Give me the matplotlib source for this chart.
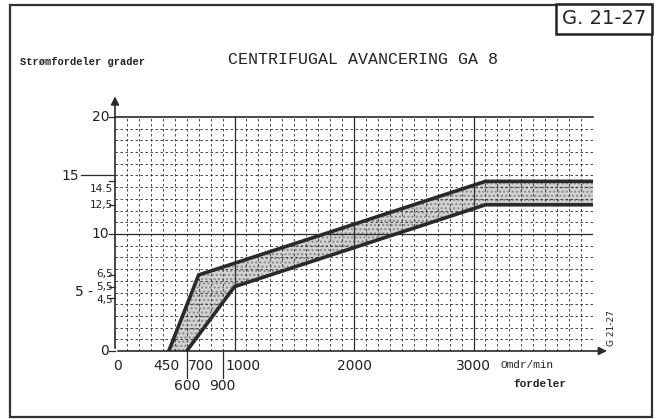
import numpy as np
import matplotlib.pyplot as plt
from matplotlib.patches import Rectangle

# band limits (rpm at distributor, distributor degrees)
upper_rpm = [450, 700, 3100, 4000]
upper_deg = [0, 6.5, 14.5, 14.5]
lower_rpm = [600, 1000, 3100, 4000]
lower_deg = [0, 5.5, 12.5, 12.5]

xticks_row1 = [0, 450, 700, 1000, 2000, 3000]
xticks_row2 = [600, 900]
yticks = [0, 4.5, 5.5, 6.5, 10, 12.5, 14.5, 20]

fig = plt.figure(figsize=(6.57, 4.19), dpi=100)
ax = fig.add_axes([115/657, 68/419, 478/657, 234/419])
ax.set_xlim(0, 4000)
ax.set_ylim(0, 20)

ink = '#2a2a2a'
# fine dashed grid
for x in np.arange(100, 4001, 100):
    if x % 1000 == 0 and x < 4000:
        ax.axvline(x, color=ink, lw=0.9, zorder=3)
    else:
        ax.axvline(x, color=ink, lw=0.6, ls=(0, (3, 3)), zorder=3)
for y in np.arange(1, 20, 1):
    if y == 10:
        ax.axhline(y, color=ink, lw=0.9, zorder=3)
    else:
        ax.axhline(y, color=ink, lw=0.6, ls=(0, (3, 3)), zorder=3)

# band
ux = np.linspace(450, 4000, 800)
uy = np.interp(ux, upper_rpm, upper_deg)
ly = np.interp(ux, lower_rpm, lower_deg)
ax.fill_between(ux, ly, uy, where=uy > ly, facecolor='#d2d2d2', edgecolor='#888888',
                hatch='....', lw=0, zorder=2)
ax.plot(upper_rpm, upper_deg, color=ink, lw=2.6, zorder=4, solid_joinstyle='miter')
ax.plot(lower_rpm, lower_deg, color=ink, lw=2.6, zorder=4, solid_joinstyle='miter')

for s in ['right', 'bottom', 'left']:
    ax.spines[s].set_visible(False)
ax.spines['top'].set_color(ink)
ax.spines['top'].set_linewidth(1.2)
ax.set_xticks([])
ax.set_yticks([])

# axes with arrows
ax.annotate('', xy=(1.035, 0), xytext=(0, 0), xycoords='axes fraction',
            arrowprops=dict(arrowstyle='-|>', color=ink, lw=1.2, mutation_scale=12))
ax.annotate('', xy=(0, 1.1), xytext=(0, 0), xycoords='axes fraction',
            arrowprops=dict(arrowstyle='-|>', color=ink, lw=1.2, mutation_scale=12))

yt = ax.get_yaxis_transform()
num = dict(fontsize=10, color='#222222', family='DejaVu Sans')
small = dict(fontsize=7.5, color='#222222', family='DejaVu Sans')
# y labels
ax.text(-0.012, 20, '20', ha='right', va='center', transform=yt, **num)
ax.text(-0.012, 10, '10', ha='right', va='center', transform=yt, **num)
ax.text(-0.005, 12.5, '12,5', ha='right', va='center', transform=yt, **small)
ax.text(-0.005, 14.3, '14.5', ha='right', va='top', transform=yt, **small)
ax.text(-0.075, 15, '15', ha='right', va='center', transform=yt, **num)
ax.plot([-0.072, 0], [15, 15], transform=yt, color=ink, lw=0.9, clip_on=False)
ax.text(-0.005, 6.6, '6,5', ha='right', va='center', transform=yt, **small)
ax.text(-0.005, 5.5, '5,5', ha='right', va='center', transform=yt, **small)
ax.text(-0.005, 4.4, '4,5', ha='right', va='center', transform=yt, **small)
ax.text(-0.046, 5, '5 -', ha='right', va='center', transform=yt, **num)
ax.text(-0.012, 0, '0', ha='right', va='center', transform=yt, **num)
for y in yticks:
    ax.plot([-0.012, 0], [y, y], transform=yt, color=ink, lw=0.9, clip_on=False)

# x labels
xt = ax.get_xaxis_transform()
xlab = {0: '0', 450: '450', 700: '700', 1000: '1000', 2000: '2000', 3000: '3000'}
offs = {0: 20, 450: -20, 700: 20, 1000: 75}
for x in xticks_row1:
    ax.text(x + offs.get(x, 0), -0.035, xlab[x], ha='center', va='top', transform=xt, **num)
for x in xticks_row2:
    ax.text(x, -0.12, str(x), ha='center', va='top', transform=xt, **num)
    ax.plot([x, x], [0, -0.115], transform=xt, color=ink, lw=0.9, clip_on=False)
ax.text(3230, -0.04, 'Omdr/min', ha='left', va='top', transform=xt,
        fontsize=8, family='Liberation Mono', color='#222222')
ax.text(3330, -0.12, 'fordeler', ha='left', va='top', transform=xt,
        fontsize=8, family='Liberation Mono', fontweight='bold', color='#222222')

# titles
fig.text(20/657, 1 - 62/419, 'Strømfordeler grader', fontsize=7.5, family='Liberation Mono',
         fontweight='bold', va='center', color='#222222')
fig.text(228/657, 1 - 60/419, 'CENTRIFUGAL AVANCERING GA 8', fontsize=12, family='Liberation Mono',
         va='center', color='#222222')
fig.text(604/657, 1 - 19/419, 'G. 21-27', fontsize=14, ha='center', va='center', color='#222222',
         bbox=dict(boxstyle='square,pad=0.3', fc='white', ec='#222222', lw=1.8))
fig.text(612/657, 1 - 328/419, 'G 21-27', fontsize=6.5, rotation=90, ha='center', va='center',
         color='#222222')

# page frame
fig.patches.append(Rectangle((10/657, 2/419), 642/657, 412/419, transform=fig.transFigure,
                             fill=False, ec='#333333', lw=1.6))

fig.savefig('out.png', dpi=100)
